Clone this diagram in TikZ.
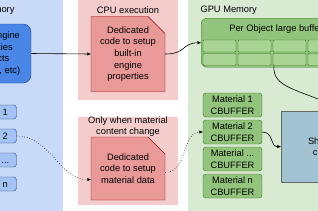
\documentclass[tikz,border=0pt]{standalone}
\usepackage{fontspec}
\setmainfont{Liberation Sans}
\definecolor{cpumem}{RGB}{201,218,248}
\definecolor{cpuexec}{RGB}{244,204,204}
\definecolor{gpumem}{RGB}{217,234,211}
\definecolor{codered}{RGB}{234,153,153}
\definecolor{darkred}{RGB}{153,0,0}
\definecolor{engblue}{RGB}{74,134,232}
\definecolor{darkblue}{RGB}{28,69,135}
\definecolor{matblue}{RGB}{164,194,244}
\definecolor{buffgreen}{RGB}{147,196,125}
\definecolor{cellgreen}{RGB}{170,212,150}
\definecolor{darkgreen}{RGB}{56,118,29}
\definecolor{shaderblue}{RGB}{162,196,210}
\usetikzlibrary{arrows.meta,shapes.misc,calc}
\newcommand{\matdots}{...}

\begin{document}
\begin{tikzpicture}[x=1pt,y=-1pt,font=\fontsize{9.3}{11.6}\selectfont,
  codebox/.style={chamfered rectangle,chamfered rectangle corners=north east,
    chamfered rectangle xsep=8pt,chamfered rectangle ysep=9pt,
    draw=darkred,fill=codered,minimum width=74pt,align=center,inner sep=1pt},
  matbox/.style={draw=darkblue,fill=matblue,rounded corners=3pt,
    minimum width=58pt,minimum height=14pt,inner sep=1pt},
  cbuf/.style={draw=darkgreen,fill=buffgreen,rounded corners=3pt,align=center,
    minimum width=59pt,minimum height=24pt,inner sep=1pt},
  cell/.style={draw=darkgreen,fill=cellgreen,rounded corners=1pt,
    minimum width=33pt,minimum height=12pt,inner sep=0pt},
  link/.style={-{Triangle[length=3.5pt,width=3pt]},line width=0.6pt}]
\useasboundingbox (0,0) rectangle (318,210);
\clip (0,0) rectangle (318,210);
% panels
\fill[cpumem] (-10,-10) rectangle (63,220);
\fill[cpuexec] (78,-10) rectangle (178,100);
\fill[cpuexec] (78,117) rectangle (178,205);
\fill[gpumem] (188,-10) rectangle (330,220);
\node[anchor=east] (cputitle) at (18,10) {CPU Memory};
\node (exectitle) at (128,10) {CPU execution};
\node[anchor=west] (gputitle) at (197,10) {GPU Memory};
\node[align=center] (onlywhen) at (128,126.5) {Only when material\\content change};

% cpu memory
\node[draw=darkblue,fill=engblue,rounded corners=8pt,align=center,
  minimum width=78pt,minimum height=59pt] (engine) at (-8,53.5)
  {Game engine\\properties\\(Objects\\cameras, etc)};
\foreach \i/\t/\y in {1/1/112,2/2/136,3/\matdots/160,4/n/184}
  \node[matbox] (mat\i) at (-12.5,\y) {Material \t};

% cpu execution
\node[codebox,minimum height=66pt] (enginesetup) at (128,54)
  {Dedicated\\code to setup\\built-in\\engine\\properties};
\node[codebox,minimum height=63pt] (matsetup) at (128,168.5)
  {Dedicated\\code to setup\\material data};

% gpu memory
\node[draw=darkgreen,fill=buffgreen,rounded corners=6pt,minimum width=150pt,
  minimum height=49pt,anchor=north west] (perobject) at (201,18) {};
\node (perobjtitle) at (276,29) {Per Object large buffer};
\foreach \c in {1,2,3,4}
  \foreach \r/\y in {1/46,2/59.5}
    \node[cell] (c\r\c) at ({184.5+35*\c},\y) {};
\foreach \i/\t/\y in {1/1/105,2/2/132,3/\matdots/159,4/n/186}
  \node[cbuf] (cbuf\i) at (232.5,\y) {Material \t\\CBUFFER};
\node[draw=black!60,fill=shaderblue,minimum width=84pt,minimum height=71pt,
  align=center] (shader) at (323,146.5) {Shader\\code};
\coordinate (shaderin) at (340,108);

% connectors
\draw[link] (engine.east) -- (enginesetup.west);
\draw[link] (enginesetup.east) .. controls (186,54) and (182,43) .. (perobject.west);
\draw[link,dotted] (mat2.east) .. controls (50,136) and (60,180) .. ($(matsetup.west)+(0,11)$);
\draw[link,dotted] ($(matsetup.east)+(0,4)$) .. controls (188,172) and (182,132) .. (cbuf2.west);
\draw[link] (cbuf2.east) .. controls (274,132) and (270,147) .. (shader.west);
\draw[line width=0.6pt] ([xshift=1pt]c23.south west) .. controls (273,88) and (295,88) .. (shaderin);
\end{tikzpicture}
\end{document}
